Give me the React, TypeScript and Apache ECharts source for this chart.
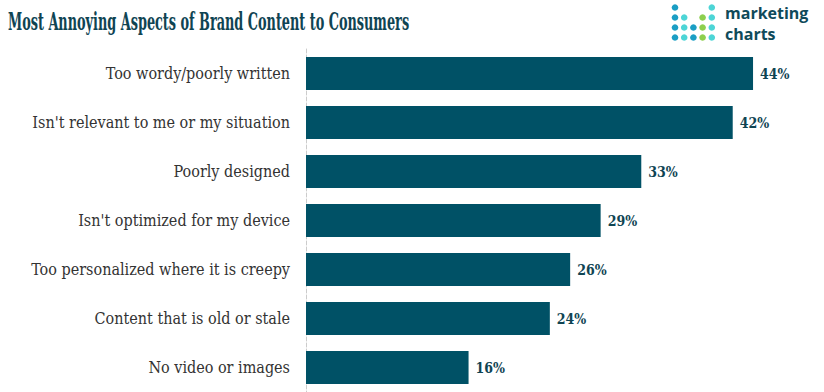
import React, { useEffect, useRef } from "react";
import * as echarts from "echarts";

const categories = [
  "Too wordy/poorly written",
  "Isn't relevant to me or my situation",
  "Poorly designed",
  "Isn't optimized for my device",
  "Too personalized where it is creepy",
  "Content that is old or stale",
  "No video or images",
];
const values = [44, 42, 33, 29, 26, 24, 16];

const titleText = "Most Annoying Aspects of Brand Content to Consumers";

const logoDots: [number, number, string][] = [
  [0, 0, "#1a9ec4"], [4, 0, "#4dd5d6"],
  [0, 1, "#1a9ec4"], [1, 1, "#4dd5d6"], [3, 1, "#8dcf4e"], [4, 1, "#4dd5d6"],
  [0, 2, "#1a9ec4"], [1, 2, "#4dd5d6"], [2, 2, "#1a9ec4"], [3, 2, "#8dcf4e"], [4, 2, "#4dd5d6"],
  [0, 3, "#1a9ec4"], [1, 3, "#4dd5d6"], [2, 3, "#1a9ec4"], [3, 3, "#8dcf4e"], [4, 3, "#4dd5d6"],
];

const SERIF = "'DejaVu Serif Condensed', 'DejaVu Serif', serif";

export default function App() {
  const ref = useRef<HTMLDivElement>(null);
  useEffect(() => {
    if (!ref.current) return;
    const chart = echarts.init(ref.current, null, { renderer: "svg" });
    const graphics: any[] = [
      {
        type: "text",
        x: 8,
        y: 9,
        scaleX: 0.595,
        style: {
          text: titleText,
          fill: "#0f4453",
          font: "bold 24px " + SERIF,
        },
      },
      ...logoDots.map(([c, r, color]) => ({
        type: "circle",
        shape: { cx: 675 + c * 9.2, cy: 7.5 + r * 10, r: 3.3 },
        style: { fill: color },
      })),
      {
        type: "text",
        x: 725,
        y: 3,
        style: {
          text: "marketing",
          fill: "#0f4a5a",
          font: "bold 16px 'Open Sans', sans-serif",
          lineHeight: 20,
        },
      },
      {
        type: "text",
        x: 725,
        y: 24,
        style: {
          text: "charts",
          fill: "#0f4a5a",
          font: "bold 16px 'Open Sans', sans-serif",
          lineHeight: 20,
        },
      },
    ];
    chart.setOption({
      animation: false,
      grid: { left: 306, right: 10, top: 49, bottom: 0, containLabel: false },
      xAxis: {
        type: "value",
        min: 0,
        max: 50,
        show: false,
      },
      yAxis: {
        type: "category",
        data: categories,
        inverse: true,
        axisLine: { show: true, lineStyle: { color: "#cccccc", type: "dashed", width: 1 } },
        axisTick: { show: false },
        axisLabel: {
          margin: 16,
          color: "#333333",
          fontSize: 16,
          fontFamily: SERIF,
        },
      },
      series: [
        {
          type: "bar",
          data: values,
          barWidth: 33,
          itemStyle: { color: "#005166" },
          label: {
            show: true,
            position: "right",
            distance: 7,
            formatter: "{c}%",
            color: "#0f4453",
            fontWeight: "bold",
            fontSize: 14,
            fontFamily: SERIF,
          },
        },
      ],
      graphic: graphics,
    });
    return () => chart.dispose();
  }, []);
  return (
    <div
      ref={ref}
      style={{ position: "absolute", left: 0, top: 0, width: 824, height: 392 }}
    />
  );
}
